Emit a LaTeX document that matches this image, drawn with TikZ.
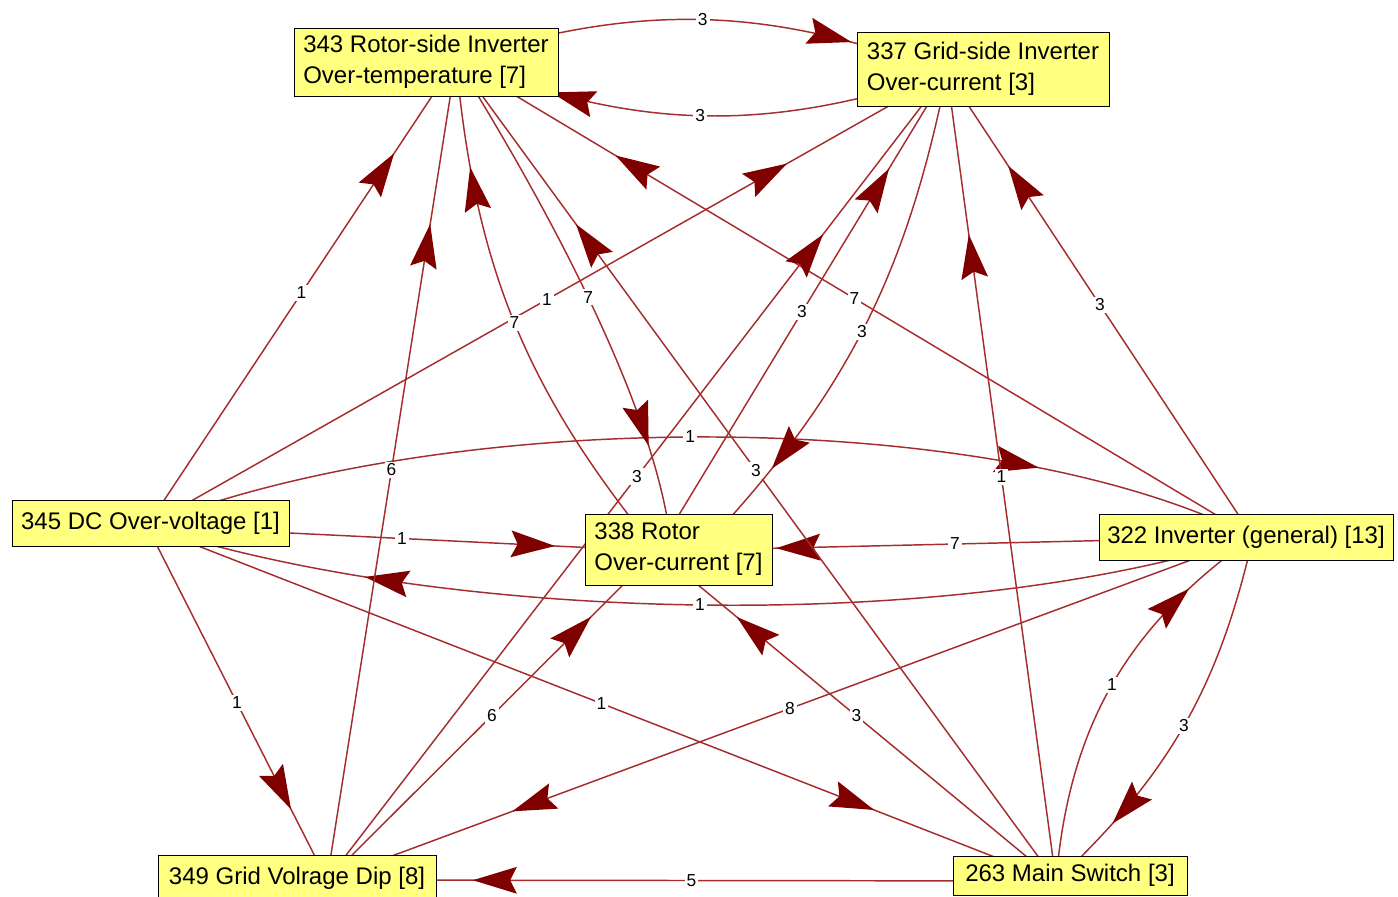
\documentclass[tikz,border=0pt]{standalone}
\usepackage{fontspec}
\setmainfont{Liberation Sans}
\usetikzlibrary{arrows.meta,decorations.markings}

\definecolor{faultfill}{RGB}{255,255,128}
\definecolor{linkred}{RGB}{165,45,45}
\definecolor{tipred}{RGB}{128,0,0}

\tikzset{
	fault/.style={draw=black, line width=0.75pt, fill=faultfill, align=left, inner xsep=2pt, inner ysep=0pt, font=\fontsize{18}{23.25}\selectfont},
	link/.style={draw=linkred, line width=1.1pt, postaction={decorate}, decoration={markings, mark=at position #1 with {\arrow{Stealth[length=33pt, width=20pt, inset=5pt, color=tipred]}}}},
	link/.default=0.8,
	cnt/.style={fill=white, inner sep=1.5pt, font=\fontsize{13}{13}\selectfont, text=black}
}

\begin{document}
\begin{tikzpicture}[x=0.75pt, y=-0.75pt]
	\useasboundingbox (0,0) rectangle (1398,896);

	\coordinate (rsip)  at (456, 60);
	\coordinate (gsip)  at (947, 73);
	\coordinate (dcovp) at (147, 526);
	\coordinate (rocp)  at (657, 551);
	\coordinate (invp)  at (1253, 537);
	\coordinate (gvdp)  at (327, 880);
	\coordinate (mswp)  at (1056, 881);

	\draw[link] (rsip) to[bend left=19] node[cnt] {3} (gsip);
	\draw[link] (gsip) to[bend left=20] node[cnt] {3} (rsip);

	\draw[link] (dcovp) -- node[cnt] {1} (rsip);
	\draw[link] (dcovp) -- node[cnt] {1} (gsip);
	\draw[link] (dcovp) -- node[cnt] {1} (rocp);
	\draw[link] (dcovp) -- node[cnt] {1} (gvdp);
	\draw[link] (dcovp) -- node[cnt] {1} (mswp);
	\draw[link] (dcovp) .. controls +(300,-120) and +(-260,-132) .. (invp) node[cnt, pos=0.48] {1};

	\draw[link] (invp) .. controls +(-300,98) and +(300,98) .. (dcovp) node[cnt, pos=0.5] {1};
	\draw[link] (invp) -- node[cnt] {7} (rsip);
	\draw[link] (invp) -- node[cnt] {3} (gsip);
	\draw[link] (invp) -- node[cnt] {7} (rocp);
	\draw[link] (invp) -- node[cnt] {8} (gvdp);
	\draw[link] (invp) to[bend left=17] node[cnt] {3} (mswp);

	\draw[link] (mswp) to[bend left=25] node[cnt] {1} (invp);
	\draw[link] (mswp) -- node[cnt] {5} (gvdp);
	\draw[link] (mswp) -- node[cnt] {3} (rocp);
	\draw[link] (mswp) -- node[cnt] {3} (rsip);
	\draw[link] (mswp) -- node[cnt] {1} (gsip);

	\draw[link] (gvdp) -- node[cnt] {6} (rsip);
	\draw[link] (gvdp) -- node[cnt] {6} (rocp);
	\draw[link] (gvdp) -- node[cnt] {3} (gsip);

	\draw[link] (rsip) to[out=-58, in=95, looseness=0.7] node[cnt] {7} ([xshift=11pt]rocp);
	\draw[link] (rocp) to[bend left=17] node[cnt] {7} (rsip);
	\draw[link] (rocp) -- node[cnt] {3} (gsip);
	\draw[link] (gsip) to[bend left=16] node[cnt] {3} ([xshift=32pt]rocp);

	\node[fault, minimum width=198pt,    minimum height=51pt]    (rsi)  at (426, 62)      {343 Rotor-side Inverter\\Over-temperature [7]};
	\node[fault, minimum width=189pt,    minimum height=55.5pt]  (gsi)  at (983, 69)      {337 Grid-side Inverter\\Over-current [3]};
	\node[fault, minimum width=207.75pt, minimum height=34.5pt]  (dcov) at (150.5, 523)   {345 DC Over-voltage [1]};
	\node[fault, minimum width=140.25pt, minimum height=53.25pt] (roc)  at (678.5, 549.5) {338 Rotor\\Over-current [7]};
	\node[fault, minimum width=220.5pt,  minimum height=34.5pt]  (inv)  at (1246, 537)    {322 Inverter (general) [13]};
	\node[fault, minimum width=208.5pt,  minimum height=34.5pt]  (gvd)  at (297, 878)     {349 Grid Volrage Dip [8]};
	\node[fault, minimum width=175.5pt,  minimum height=29.25pt] (msw)  at (1070, 875.5)  {263 Main Switch [3]};
\end{tikzpicture}
\end{document}
